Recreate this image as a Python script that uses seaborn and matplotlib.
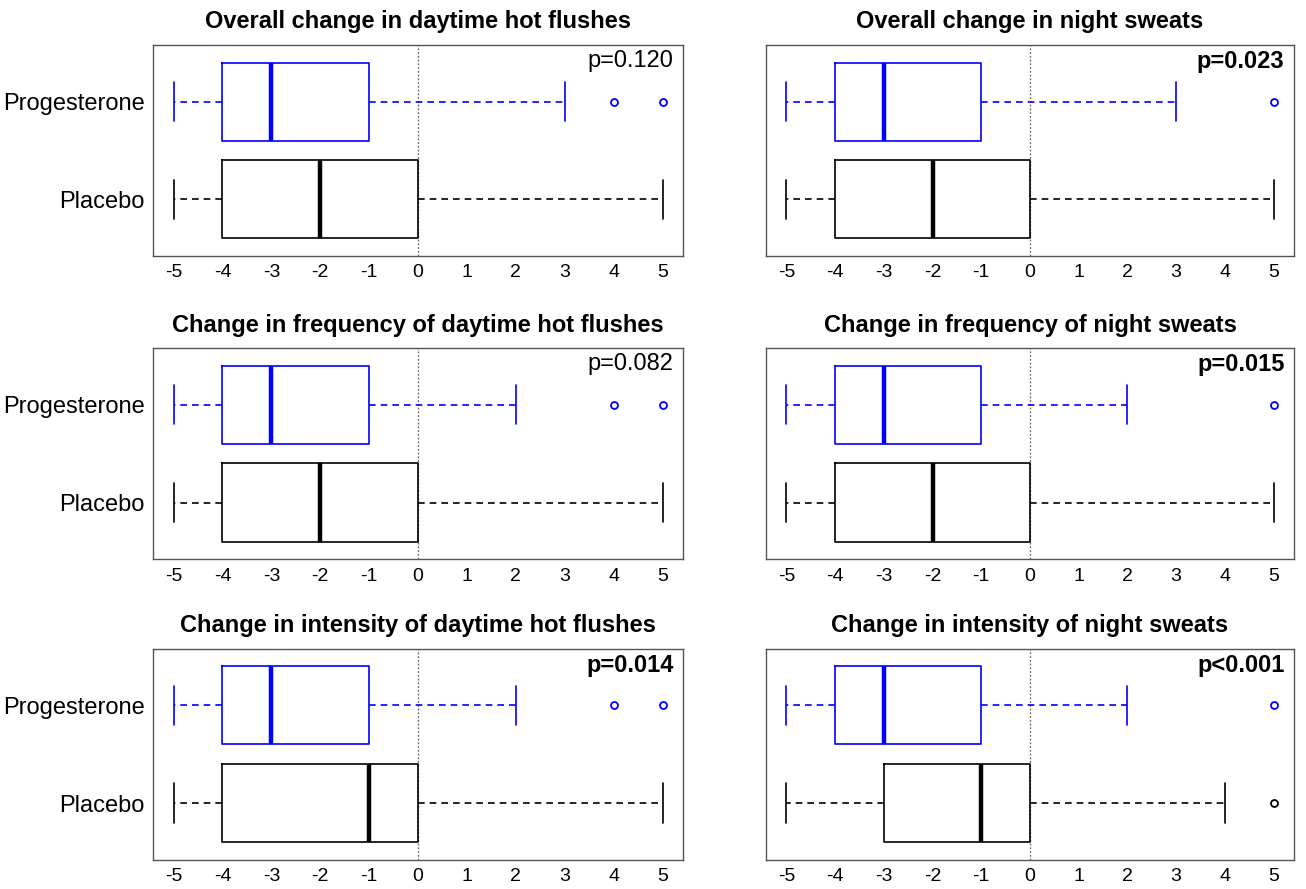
import pandas as pd
import matplotlib
matplotlib.use("Agg")
import matplotlib.pyplot as plt
import seaborn as sns


# panel titles, row by row (left = daytime, right = night)
titles = [
    "Overall change in daytime hot flushes",
    "Overall change in night sweats",
    "Change in frequency of daytime hot flushes",
    "Change in frequency of night sweats",
    "Change in intensity of daytime hot flushes",
    "Change in intensity of night sweats",
]
p_labels = ["p=0.120", "p=0.023", "p=0.082", "p=0.015", "p=0.014", "p<0.001"]
p_bold = [False, True, False, True, True, True]

groups = ["Progesterone", "Placebo"]
group_colors = {"Progesterone": "#0000FF", "Placebo": "black"}

# change scores (-5 .. 5) per panel, estimated from the boxes
prog_scores = [
    [-5, -5, -4, -4, -4, -3, -3, -2, -1, -1, 3, 4, 5],
    [-5, -5, -4, -4, -4, -3, -3, -2, -1, -1, 2, 3, 5],
    [-5, -5, -4, -4, -4, -3, -3, -2, -1, -1, 2, 4, 5],
    [-5, -5, -4, -4, -4, -3, -3, -2, -1, -1, 1, 2, 5],
    [-5, -5, -4, -4, -4, -3, -3, -2, -1, -1, 2, 4, 5],
    [-5, -5, -4, -4, -4, -3, -3, -2, -1, -1, 1, 2, 5],
]
plac_scores = [
    [-5, -5, -4, -4, -3, -3, -2, -1, 0, 0, 2, 4, 5],
    [-5, -5, -4, -4, -3, -3, -2, -1, 0, 0, 2, 4, 5],
    [-5, -5, -4, -4, -3, -3, -2, -1, 0, 0, 2, 4, 5],
    [-5, -5, -4, -4, -3, -3, -2, -1, 0, 0, 2, 4, 5],
    [-5, -5, -4, -4, -3, -2, -1, -1, 0, 0, 2, 4, 5],
    [-5, -4, -3, -3, -2, -2, -1, -1, 0, 0, 2, 4, 5],
]
x_ticks = [-5, -4, -3, -2, -1, 0, 1, 2, 3, 4, 5]

sns.set_theme(style="white")
plt.rcParams["font.family"] = ["Liberation Sans", "DejaVu Sans"]
plt.rcParams["text.color"] = "black"
plt.rcParams["axes.titlecolor"] = "black"
plt.rcParams["xtick.color"] = "black"
plt.rcParams["ytick.color"] = "black"

fig = plt.figure(figsize=(13.06, 8.89), dpi=100)

# axes boxes in figure fractions: columns and rows
col_left = [0.1172, 0.5865]
col_width = [0.4058, 0.4043]
row_bottom = [0.7120, 0.3710, 0.0330]
row_height = 0.2373

for i, title in enumerate(titles):
    r, c = divmod(i, 2)
    ax = fig.add_axes([col_left[c], row_bottom[r], col_width[c], row_height])

    df = pd.DataFrame({
        "score": prog_scores[i] + plac_scores[i],
        "group": ["Progesterone"] * len(prog_scores[i]) + ["Placebo"] * len(plac_scores[i]),
    })

    # dotted reference line at no change
    ax.axvline(0, color="#666666", lw=0.9, ls=(0, (1.5, 1.5)), zorder=0)

    sns.boxplot(
        data=df, x="score", y="group", hue="group", order=groups,
        palette=group_colors, fill=False, width=0.8, linewidth=1.2,
        legend=False, ax=ax,
        medianprops={"linewidth": 3.2},
        whiskerprops={"linestyle": (0, (4, 3))},
        flierprops={"marker": "o", "markersize": 5, "markerfacecolor": "none",
                    "markeredgewidth": 1.3},
    )

    ax.set_xlim(-5.42, 5.42)
    ax.set_ylim(1.58, -0.58)
    ax.set_xticks(x_ticks)
    ax.set_xticklabels([str(t) for t in x_ticks])
    ax.set_xlabel("")
    ax.set_ylabel("")
    if c == 1:
        ax.set_yticklabels(["", ""])

    for s in ax.spines.values():
        s.set_color("#555555")
        s.set_linewidth(1.0)
    ax.tick_params(axis="both", length=4, width=0.8, color="#777777", labelcolor="black")
    ax.tick_params(axis="x", labelsize=14, pad=2)
    ax.tick_params(axis="y", labelsize=17, pad=2)

    ax.set_title(title, fontsize=17, fontweight="bold", pad=12, color="black")
    ax.text(0.982, 0.975, p_labels[i], transform=ax.transAxes, ha="right", va="top",
            fontsize=17, color="black", fontweight="bold" if p_bold[i] else "normal")

plt.savefig("out.png", dpi=100)
